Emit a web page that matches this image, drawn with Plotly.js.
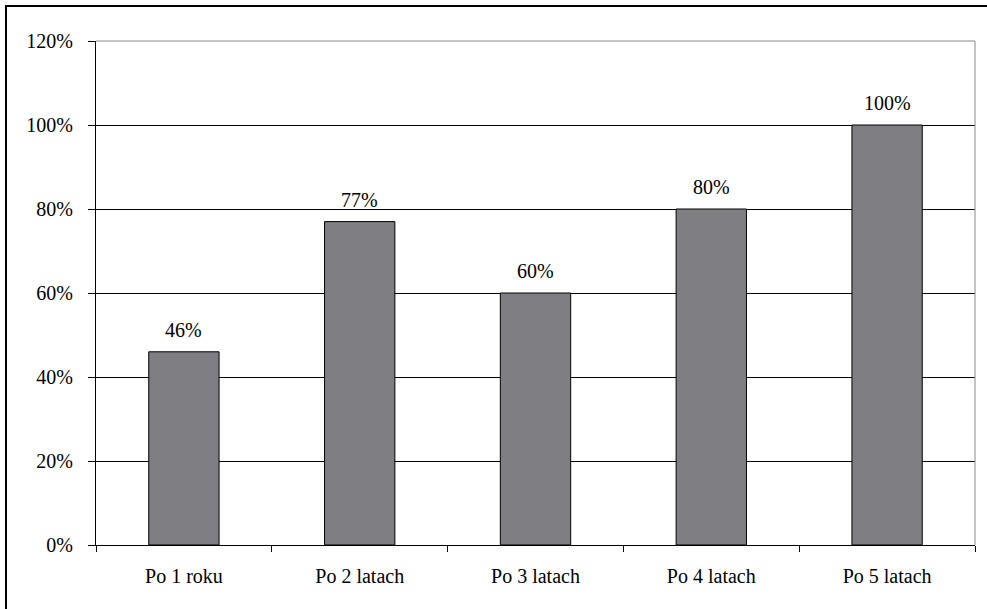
<!DOCTYPE html>
<html><head><meta charset="utf-8">
<script src="https://cdn.plot.ly/plotly-3.0.1.min.js"></script>
<style>html,body{margin:0;padding:0;background:#fff}</style>
</head><body>
<div id="chart" style="width:987px;height:609px"></div>
<script>
const categories = ["Po 1 roku", "Po 2 latach", "Po 3 latach", "Po 4 latach", "Po 5 latach"];
const values = [46, 77, 60, 80, 100];
const labels = ["46%", "77%", "60%", "80%", "100%"];
const yTicks = [0, 20, 40, 60, 80, 100, 120];
const yTickText = ["0%", "20%", "40%", "60%", "80%", "100%", "120%"];

const font = {family: "Liberation Serif, serif", size: 20, color: "#000"};

const trace = {
  type: "bar", x: categories, y: values,
  marker: {color: "#7e7e83", line: {color: "#000", width: 1}},
  hoverinfo: "none"
};

const annotations = categories.map((c, i) => ({
  x: c, y: values[i], text: labels[i], showarrow: false,
  xref: "x", yref: "y", yanchor: "bottom", yshift: 9,
  font: font
}));

const layout = {
  width: 987, height: 609,
  margin: {l: 96, r: 12, t: 41, b: 64},
  paper_bgcolor: "#fff", plot_bgcolor: "#fff",
  font: font, showlegend: false, bargap: 0.6,
  xaxis: {
    showline: true, linecolor: "#000", linewidth: 1,
    ticks: "outside", tickson: "boundaries", ticklen: 6, tickcolor: "#000",
    ticklabelstandoff: 13, showgrid: false, fixedrange: true, tickfont: font
  },
  yaxis: {
    range: [0, 120], tickvals: yTicks, ticktext: yTickText,
    showline: true, linecolor: "#000", linewidth: 1,
    ticks: "outside", ticklen: 7, tickcolor: "#000", ticklabelstandoff: 11,
    showgrid: true, gridcolor: "#000", gridwidth: 1, zeroline: false, fixedrange: true, tickfont: font
  },
  annotations: annotations,
  shapes: [
    {type: "line", xref: "paper", yref: "paper", x0: 0, x1: 1, y0: 1, y1: 1, line: {color: "#888", width: 1}},
    {type: "line", xref: "paper", yref: "paper", x0: 1, x1: 1, y0: 0, y1: 1, line: {color: "#888", width: 1}},
    {type: "rect", xref: "paper", yref: "paper", x0: -0.1024, x1: 1.2, y0: -0.3, y1: 1.0694, line: {color: "#000", width: 2}}
  ]
};

Plotly.newPlot("chart", [trace], layout, {displayModeBar: false, staticPlot: true});
</script>
</body></html>
